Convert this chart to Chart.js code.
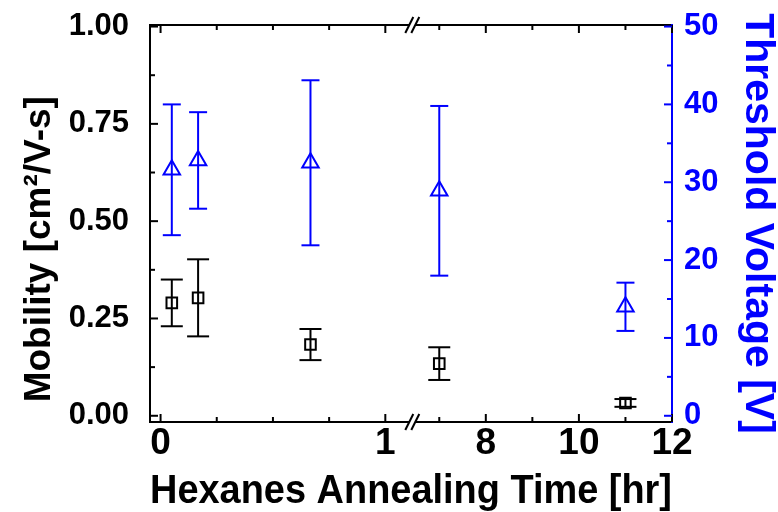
<!DOCTYPE html>
<html>
<head>
<meta charset="utf-8">
<script src="https://cdn.jsdelivr.net/npm/chart.js@4/dist/chart.umd.min.js"></script>
<style>
html,body{margin:0;padding:0;background:#fff;}
canvas{display:block;}
</style>
</head>
<body>
<canvas id="c" width="778" height="512" style="width:778px;height:512px"></canvas>
<script>
// ---- data ----
const annealHours   = [0.05, 0.167, 0.667, 7, 11];
const mobility      = [0.29, 0.303, 0.183, 0.134, 0.033];
const mobilityErr   = [0.06, 0.099, 0.04, 0.042, 0.01];
const thresholdV    = [31.6, 32.8, 32.5, 28.9, 14.0];
const thresholdErr  = [8.4, 6.2, 10.6, 10.9, 3.1];

// ---- tick labels ----
const xMajorTicks    = [0, 1, 8, 10, 12];
const xMinorTicks    = [0.25, 0.5, 0.75, 7, 9, 11];
const mobilityTicks  = [0, 0.25, 0.5, 0.75, 1.0];
const mobilityMinor  = [0.125, 0.375, 0.625, 0.875];
const voltageTicks   = [0, 10, 20, 30, 40, 50];
const voltageMinor   = [5, 15, 25, 35, 45];

// ---- broken x axis: segment [0,1] h, then [7,12] h ----
const SEG1 = [0, 1], SEG2 = [7, 12];
const GAP = 0.24, SEG2_SCALE = 0.2071;
function toAxis(h) {
  if (h <= SEG1[1]) return h;
  return SEG1[1] + GAP + (h - SEG2[0]) * SEG2_SCALE;
}
const BREAK_AT = SEG1[1] + GAP / 2;

const BLUE = '#0000ff';
const BLACK = '#000000';
const FONT = "'Liberation Sans', Arial, Helvetica, sans-serif";

function line(ctx, x1, y1, x2, y2) {
  ctx.beginPath(); ctx.moveTo(x1, y1); ctx.lineTo(x2, y2); ctx.stroke();
}
function noEdgePadding(s) { s.paddingTop = 0; s.paddingBottom = 0; }

const bgPlugin = {
  id: 'bg',
  beforeDraw(chart) {
    const c = chart.ctx;
    c.save(); c.fillStyle = '#fff'; c.fillRect(0, 0, chart.width, chart.height); c.restore();
  }
};

const errorBarPlugin = {
  id: 'errbars',
  beforeDatasetsDraw(chart) {
    const {ctx, scales: {x, y, y2}} = chart;
    ctx.save();
    ctx.lineWidth = 2;
    ctx.lineCap = 'butt';
    annealHours.forEach((h, i) => {
      const px = x.getPixelForValue(toAxis(h));
      ctx.strokeStyle = BLACK;
      let top = y.getPixelForValue(mobility[i] + mobilityErr[i]);
      let bot = y.getPixelForValue(mobility[i] - mobilityErr[i]);
      line(ctx, px, top, px, bot);
      line(ctx, px - 11, top, px + 11, top);
      line(ctx, px - 11, bot, px + 11, bot);
      ctx.strokeStyle = BLUE;
      top = y2.getPixelForValue(thresholdV[i] + thresholdErr[i]);
      bot = y2.getPixelForValue(thresholdV[i] - thresholdErr[i]);
      line(ctx, px, top, px, bot);
      line(ctx, px - 9, top, px + 9, top);
      line(ctx, px - 9, bot, px + 9, bot);
    });
    ctx.restore();
  }
};

const framePlugin = {
  id: 'frame',
  afterDraw(chart) {
    const {ctx, chartArea: a, scales: {x, y, y2}} = chart;
    ctx.save();
    ctx.lineWidth = 2;
    ctx.lineCap = 'square';
    ctx.strokeStyle = BLACK;
    line(ctx, a.left, a.top, a.right, a.top);
    line(ctx, a.left, a.bottom, a.right, a.bottom);
    line(ctx, a.left, a.top, a.left, a.bottom);
    ctx.strokeStyle = BLUE;
    line(ctx, a.right, a.top, a.right, a.bottom);
    ctx.lineCap = 'butt';
    ctx.strokeStyle = BLACK;
    const xt = (h, len) => {
      const p = x.getPixelForValue(toAxis(h));
      line(ctx, p, a.bottom, p, a.bottom - len);
      line(ctx, p, a.top, p, a.top + len);
    };
    xMajorTicks.forEach(h => xt(h, 8));
    xMinorTicks.forEach(h => xt(h, 5));
    const lt = (v, len) => { const p = y.getPixelForValue(v); line(ctx, a.left, p, a.left + len, p); };
    mobilityTicks.forEach(v => lt(v, 8));
    mobilityMinor.forEach(v => lt(v, 5));
    ctx.strokeStyle = BLUE;
    const rt = (v, len) => { const p = y2.getPixelForValue(v); line(ctx, a.right, p, a.right - len, p); };
    voltageTicks.forEach(v => rt(v, 8));
    voltageMinor.forEach(v => rt(v, 5));
    const pb = x.getPixelForValue(BREAK_AT);
    [a.top, a.bottom].forEach(yy => {
      ctx.fillStyle = '#fff';
      ctx.fillRect(pb - 3, yy - 2, 6, 4);
      ctx.strokeStyle = BLACK;
      ctx.lineWidth = 2;
      line(ctx, pb - 7, yy + 8, pb + 1, yy - 8);
      line(ctx, pb - 1, yy + 8, pb + 7, yy - 8);
    });
    ctx.restore();
  }
};

new Chart(document.getElementById('c').getContext('2d'), {
  type: 'scatter',
  data: {
    datasets: [
      {
        label: 'Mobility',
        data: annealHours.map((h, i) => ({x: toAxis(h), y: mobility[i]})),
        yAxisID: 'y',
        pointStyle: 'rect',
        pointRadius: 7.5,
        borderWidth: 2,
        borderColor: BLACK,
        backgroundColor: 'rgba(0,0,0,0)',
        showLine: false
      },
      {
        label: 'Threshold Voltage',
        data: annealHours.map((h, i) => ({x: toAxis(h), y: thresholdV[i]})),
        yAxisID: 'y2',
        pointStyle: 'triangle',
        pointRadius: 9.5,
        borderWidth: 2,
        borderColor: BLUE,
        backgroundColor: 'rgba(0,0,0,0)',
        showLine: false
      }
    ]
  },
  options: {
    responsive: false,
    devicePixelRatio: 1,
    animation: false,
    layout: {padding: {top: 25, left: 0, right: 0, bottom: 0}},
    plugins: {legend: {display: false}, tooltip: {enabled: false}},
    scales: {
      x: {
        type: 'linear',
        position: 'bottom',
        min: -0.047,
        max: toAxis(12),
        grid: {display: false, drawTicks: false},
        border: {display: false},
        afterBuildTicks: s => { s.ticks = xMajorTicks.map(h => ({value: toAxis(h)})); },
        afterFit: s => { s.height = 90; s.paddingLeft = 0; s.paddingRight = 0; },
        ticks: {
          autoSkip: false, maxRotation: 0, minRotation: 0, padding: 1,
          color: BLACK,
          font: {family: FONT, size: 37, weight: 'bold', lineHeight: 1.1},
          callback: (v, i) => String(xMajorTicks[i])
        },
        title: {
          display: true, text: 'Hexanes Annealing Time [hr]', color: BLACK,
          font: {family: FONT, size: 41, weight: 'bold', lineHeight: 1},
          padding: {top: 0, bottom: 0}
        }
      },
      y: {
        type: 'linear',
        position: 'left',
        min: -0.016,
        max: 1.004,
        grid: {display: false, drawTicks: false},
        border: {display: false},
        afterBuildTicks: s => { s.ticks = mobilityTicks.map(v => ({value: v})); },
        afterFit: s => { s.width = 150; noEdgePadding(s); },
        ticks: {
          padding: 21, color: BLACK,
          font: {family: FONT, size: 31, weight: 'bold'},
          callback: v => Number(v).toFixed(2)
        },
        title: {
          display: true, text: 'Mobility [cm²/V-s]\u2007\u2007 ', color: BLACK,
          font: {family: FONT, size: 37, weight: 'bold', lineHeight: 1.2},
          padding: {top: 18, bottom: 0}
        }
      },
      y2: {
        type: 'linear',
        position: 'right',
        min: -0.8,
        max: 50.2,
        grid: {display: false, drawTicks: false},
        border: {display: false},
        afterBuildTicks: s => { s.ticks = voltageTicks.map(v => ({value: v})); },
        afterFit: s => { s.width = 106; noEdgePadding(s); },
        ticks: {
          padding: 12, color: BLUE,
          font: {family: FONT, size: 31, weight: 'bold'},
          callback: v => String(v)
        },
        title: {
          display: true, text: 'Threshold Voltage [V]', color: BLUE,
          font: {family: FONT, size: 41, weight: 'bold', lineHeight: 1},
          padding: {top: 0, bottom: 0}
        }
      }
    }
  },
  plugins: [bgPlugin, errorBarPlugin, framePlugin]
});
</script>
</body>
</html>
